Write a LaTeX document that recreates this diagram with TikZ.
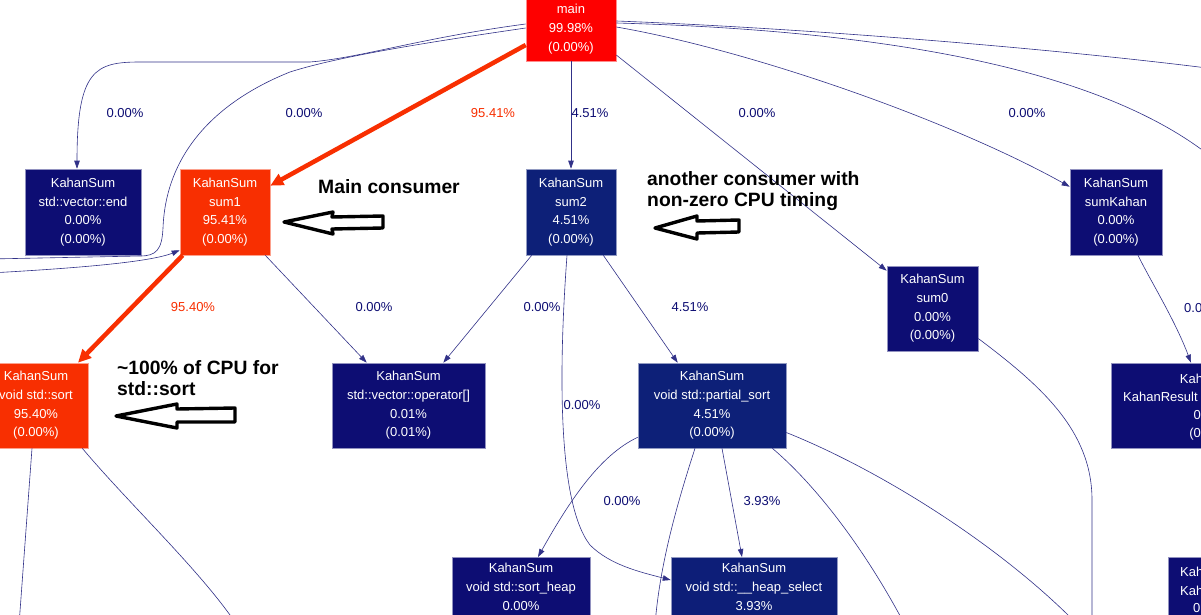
\documentclass[tikz,border=0pt]{standalone}
\usepackage{fontspec}
\setmainfont{Liberation Sans}
\usetikzlibrary{arrows.meta,calc}
\definecolor{navy}{HTML}{0D0D73}
\definecolor{navyb}{HTML}{0D2078}
\definecolor{navyc}{HTML}{0D1E78}
\definecolor{hot}{HTML}{F82F01}
\definecolor{topred}{HTML}{FE0000}
\newcommand\fgnodefont{\fontsize{13}{18.7}\selectfont}
\newcommand\fgnotefont{\fontsize{19.3}{21}\selectfont\bfseries}
\tikzset{
  fnbox/.style={rectangle, fill=#1, draw=#1!45!white, line width=0.6pt, text=white,
    font=\fgnodefont, align=center, inner sep=0pt},
  fgtext/.style={font=\fgnodefont, text=white, align=center, inner sep=0pt},
  lbl/.style={font=\fgnodefont, text=navy, inner sep=0pt},
  hotlbl/.style={font=\fgnodefont, text=hot, inner sep=0pt},
  plainedge/.style={draw=navy!85!white, line width=0.6pt},
  edge/.style={plainedge, -{Triangle[length=8pt,width=5.5pt]}},
  hotedge/.style={draw=hot, line width=4.5pt, -{Triangle[length=13pt,width=12pt]}},
  note/.style={font=\fgnotefont, align=left, inner sep=0pt, anchor=west},
  hollow/.style={draw=black, line width=3.4pt, line join=round, fill=white},
}
\begin{document}
\begin{tikzpicture}[x=1pt,y=-1pt]
\useasboundingbox (0,0) rectangle (1201,615);
\clip (0,0) rectangle (1201,615);
\fill[white] (0,0) rectangle (1201,615);

% nodes
\node[fnbox=topred, minimum width=90pt, minimum height=64pt] (main) at (571,29) {main\\99.98\%\\(0.00\%)};
\node[fnbox=navy, minimum width=116pt, minimum height=86pt] (vend) at (83,212) {KahanSum\\std::vector::end\\0.00\%\\(0.00\%)};
\node[fnbox=hot, minimum width=90pt, minimum height=86pt] (sum1) at (225,212) {KahanSum\\sum1\\95.41\%\\(0.00\%)};
\node[fnbox=navyb, minimum width=90pt, minimum height=86pt] (sum2) at (571,212) {KahanSum\\sum2\\4.51\%\\(0.00\%)};
\node[fnbox=navy, minimum width=92pt, minimum height=86pt] (sumK) at (1116,212) {KahanSum\\sumKahan\\0.00\%\\(0.00\%)};
\node[fnbox=navy, minimum width=91pt, minimum height=85pt] (sum0) at (932.5,308.5) {KahanSum\\sum0\\0.00\%\\(0.00\%)};
\node[fnbox=hot, minimum width=104pt, minimum height=85pt] (sort) at (36,405.5) {KahanSum\\void std::sort\\95.40\%\\(0.00\%)};
\node[fnbox=navy, minimum width=153pt, minimum height=85pt] (opidx) at (408.5,405.5) {KahanSum\\std::vector::operator[]\\0.01\%\\(0.01\%)};
\node[fnbox=navyb, minimum width=148pt, minimum height=85pt] (psort) at (712,405.5) {KahanSum\\void std::partial\_sort\\4.51\%\\(0.00\%)};
\node[fnbox=navy, minimum width=200pt, minimum height=85pt, anchor=west] (kres) at (1111,405.5) {};
\node[fgtext] (kres1) at (1212,379) {KahanSum};
\node[fgtext, anchor=west] (kres2) at (1123,397) {KahanResult};
\node[fgtext] (kres3) at (1212,415) {0.00\%};
\node[fgtext] (kres4) at (1212,434) {(0.00\%)};
\node[fnbox=navy, minimum width=138pt, minimum height=86pt, anchor=north] (sheap) at (521,557) {};
\node[fgtext, anchor=north] (sheapt) at (521,563) {KahanSum\\void std::sort\_heap\\0.00\%};
\node[fnbox=navyc, minimum width=166pt, minimum height=86pt, anchor=north] (hsel) at (754,557) {};
\node[fgtext, anchor=north] (hselt) at (754,563) {KahanSum\\void std::\_\_heap\_select\\3.93\%};
\node[fnbox=navy, minimum width=100pt, minimum height=86pt, anchor=north west] (bright) at (1168,557) {};
\node[fgtext, anchor=west] (bright1) at (1180,572) {KahanSum};
\node[fgtext, anchor=west] (bright2) at (1180,591) {KahanResult};
\node[fgtext, anchor=west] (bright3) at (1193,608) {0.00\%};

% free ends
\coordinate (offL1) at (-10,259);
\coordinate (offL2) at (-10,273);
\coordinate (offR1) at (1215,69);
\coordinate (offR2) at (1215,160);
\coordinate (offB1) at (19,625);
\coordinate (offB2) at (237,625);
\coordinate (offB3) at (655,625);
\coordinate (offB4) at (905,625);
\coordinate (offB5) at (1078,625);
\coordinate (offB6) at (1092,625);

% edges
\draw[edge] ($(main.west)+(0,-5)$) .. controls (420,38) and (360,58) .. (310,62) -- (140,62) .. controls (95,62) and (77,70) .. ($(vend.north)+(-6,0)$);
\draw[plainedge] ($(main.west)+(0,-1)$) .. controls (430,42) and (340,56) .. (290,72) .. controls (220,100) and (166,150) .. (163,228) .. controls (162,250) and (156,256) .. (140,256) -- (offL1);
\draw[edge] (offL2) .. controls (80,268) and (150,262) .. ($(sum1.south west)+(0,-5)$);
\draw[hotedge] ($(main.west)+(0,16)$) -- ($(sum1.north east)+(0,17)$);
\draw[edge] (main.south) -- (sum2.north);
\draw[edge] ($(main.east)+(0,26)$) -- ($(sum0.north west)+(0,5)$);
\draw[edge] ($(main.east)+(0,-2)$) .. controls (750,50) and (950,120) .. ($(sumK.north west)+(0,18)$);
\draw[plainedge] ($(main.east)+(0,-8)$) .. controls (800,28) and (1050,48) .. (offR1);
\draw[plainedge] ($(main.east)+(0,-6)$) .. controls (870,30) and (1100,65) .. (offR2);
\draw[hotedge] ($(sum1.south west)+(3,0)$) -- ($(sort.north)+(42,0)$);
\draw[edge] ($(sum1.south east)+(-5,0)$) -- ($(opidx.north west)+(35,0)$);
\draw[edge] ($(sum2.south west)+(6,0)$) -- ($(opidx.north east)+(-42,0)$);
\draw[edge] ($(sum2.south east)+(-13,0)$) -- ($(psort.north west)+(40,0)$);
\draw[edge] ($(sum2.south)+(-4,0)$) .. controls (560,350) and (555,500) .. (590,545) .. controls (610,565) and (640,572) .. ($(hsel.north west)+(0,23)$);
\draw[edge] ($(psort.south west)+(0,-11)$) .. controls (600,455) and (570,500) .. ($(sheap.north)+(17,0)$);
\draw[edge] ($(psort.south)+(10,0)$) -- ($(hsel.north)+(-12,0)$);
\draw[plainedge] ($(psort.south)+(-17,0)$) .. controls (680,495) and (660,560) .. (offB3);
\draw[plainedge] ($(psort.south east)+(-14,0)$) .. controls (810,480) and (860,540) .. (offB4);
\draw[plainedge] ($(psort.east)+(0,27)$) .. controls (880,470) and (1000,545) .. (offB5);
\draw[plainedge] ($(sum0.east)+(0,30)$) .. controls (1040,385) and (1092,430) .. (1092,500) -- (offB6);
\draw[edge] ($(sumK.south)+(22,0)$) .. controls (1150,280) and (1175,320) .. ($(kres.north west)+(80,0)$);
\draw[plainedge] ($(sort.south)+(-4,0)$) -- (offB1);
\draw[plainedge] ($(sort.south east)+(-6,0)$) .. controls (130,505) and (200,570) .. (offB2);

% edge labels
\node[lbl] (l1) at (125,113) {0.00\%};
\node[lbl] (l2) at (304,113) {0.00\%};
\node[hotlbl] (l3) at (493,113) {95.41\%};
\node[lbl] (l4) at (590,113) {4.51\%};
\node[lbl] (l5) at (757,113) {0.00\%};
\node[lbl] (l6) at (1027,113) {0.00\%};
\node[hotlbl] (l7) at (193,307) {95.40\%};
\node[lbl] (l8) at (374,307) {0.00\%};
\node[lbl] (l9) at (542,307) {0.00\%};
\node[lbl] (l10) at (690,307) {4.51\%};
\node[lbl, anchor=west] (l11) at (1184,308) {0.00\%};
\node[lbl] (l12) at (582,405) {0.00\%};
\node[lbl] (l13) at (622,501) {0.00\%};
\node[lbl] (l14) at (762,501) {3.93\%};

% annotations
\node[note] (n1) at (318,187) {Main consumer};
\node[note] (n2) at (647,191) {another consumer with\\non-zero CPU timing};
\node[note] (n3) at (117,378) {\textasciitilde100\% of CPU for\\std::sort};
\draw[hollow] (284,222) -- (333,212) -- (332,217) -- (383,216) -- (383,228) -- (332,229) -- (333,234) -- cycle;
\draw[hollow] (655,228) -- (697,216) -- (697,221) -- (739,220) -- (739,232) -- (697,233) -- (697,239) -- cycle;
\draw[hollow] (116,416) -- (177,404) -- (177,409) -- (235,408) -- (235,422) -- (177,422) -- (177,428) -- cycle;
\end{tikzpicture}
\end{document}
